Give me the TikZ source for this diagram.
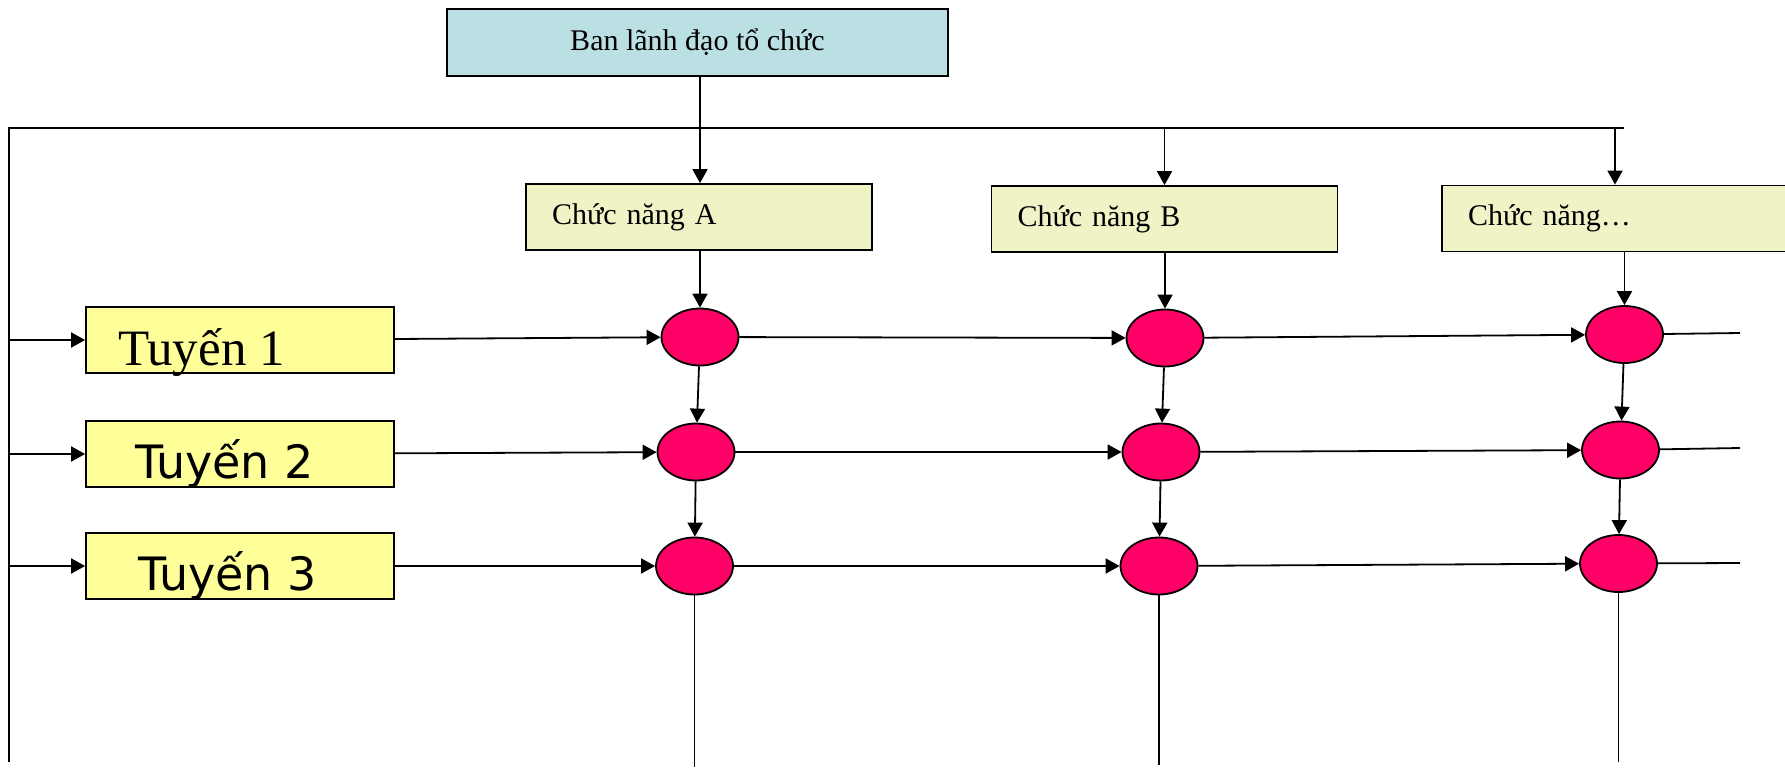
\documentclass[tikz,border=0pt]{standalone}
\usepackage{fontspec}
\setmainfont{Liberation Serif}
\newfontfamily\sansvn{DejaVu Sans}
\usetikzlibrary{arrows.meta,shapes.geometric,positioning}
\definecolor{leadblue}{HTML}{BBE0E3}
\definecolor{funcgreen}{HTML}{EFF3C6}
\definecolor{routeyellow}{HTML}{FFFF99}
\definecolor{pointpink}{HTML}{FF0066}
\newcommand\boxfont{\fontsize{15}{18}\selectfont}
\newcommand\tuyenserif{\fontsize{25.5}{29}\selectfont}
\newcommand\tuyensans{\sansvn\fontsize{23}{27}\selectfont}

\begin{document}
\begin{tikzpicture}[x=0.5pt, y=-0.5pt, line width=0.9pt, >={Triangle[length=7pt,width=7.5pt]}]
	\tikzstyle{lead} = [draw, fill=leadblue, minimum width=250.5pt, minimum height=33.5pt, font=\boxfont]
	\tikzstyle{func} = [draw, fill=funcgreen, minimum height=33pt, text width=147pt, inner xsep=13pt, align=left, font=\boxfont]
	\tikzstyle{route} = [draw, fill=routeyellow, minimum width=154pt, minimum height=33pt]
	\tikzstyle{point} = [ellipse, draw, fill=pointpink, minimum width=38.5pt, minimum height=28.5pt, inner sep=0pt]
	\tikzstyle{txt} = [anchor=base west, inner sep=0pt]
	\useasboundingbox (0,0) rectangle (1785,767);
	\clip (0,0) rectangle (1785,767);
	% leadership and functions
	\node[lead] (lead) at (697.5,42.5) {Ban lãnh đạo tổ chức};
	\node[func] (fA) at (699,217) {Chức năng A};
	\node[func] (fB) at (1164.5,219) {Chức năng B};
	\node[func] (fC) at (1615,218.5) {Chức năng…};
	% lines
	\node[route] (t1) at (240,340) {};
	\node[route] (t2) at (240,454) {};
	\node[route] (t3) at (240,566) {};
	\node[txt, font=\tuyenserif] at ([xshift=16pt,yshift=4pt]t1.south west) {Tuyến 1};
	\node[txt, font=\tuyensans] at ([xshift=24.5pt,yshift=4.5pt]t2.south west) {Tuyến 2};
	\node[txt, font=\tuyensans] at ([xshift=26pt,yshift=4.5pt]t3.south west) {Tuyến 3};
	% crossing points
	\node[point] (a1) at (700,337) {};
	\node[point] (a2) at (696,452) {};
	\node[point] (a3) at (694.5,566) {};
	\node[point] (b1) at (1165,338) {};
	\node[point] (b2) at (1161,452) {};
	\node[point] (b3) at (1159,566) {};
	\node[point] (c1) at (1624.5,334.5) {};
	\node[point] (c2) at (1620.5,450) {};
	\node[point] (c3) at (1618.5,563.5) {};
	% bus
	\coordinate (busL) at (9,128);
	\coordinate (busR) at (1624,128);
	\coordinate (busEnd) at (9,762);
	\draw (busEnd) -- (busL) -- (busR);
	\draw[->] (lead.south -| a1) -- (fA.north -| a1);
	\draw[->] (fB.north |- busL) -- (fB.north);
	\draw[->] (fC.north |- busL) -- (fC.north);
	\draw[->] (fA.south -| a1) -- (a1);
	\draw[->] (fB.south -| b1) -- (b1);
	\draw[->] (fC.south -| c1) -- (c1);
	\draw[->] (t1.west -| busL) -- (t1.west);
	\draw[->] (t2.west -| busL) -- (t2.west);
	\draw[->] (t3.west -| busL) -- (t3.west);
	% rows
	\draw[->] (t1) -- (a1);
	\draw[->] (a1) -- (b1);
	\draw[->] (b1) -- (c1);
	\draw[->] (t2) -- (a2);
	\draw[->] (a2) -- (b2);
	\draw[->] (b2) -- (c2);
	\draw[->] (t3) -- (a3);
	\draw[->] (a3) -- (b3);
	\draw[->] (b3) -- (c3);
	\coordinate (e1) at (1740,333);
	\coordinate (e2) at (1740,448);
	\coordinate (e3) at (1740,563);
	\draw (c1) -- (e1);
	\draw (c2) -- (e2);
	\draw (c3) -- (e3);
	% columns
	\draw[->] (a1) -- (a2);
	\draw[->] (a2) -- (a3);
	\draw[->] (b1) -- (b2);
	\draw[->] (b2) -- (b3);
	\draw[->] (c1) -- (c2);
	\draw[->] (c2) -- (c3);
	\draw (a3) -- (a3 |- 0,767);
	\draw (b3) -- (b3 |- 0,765);
	\draw (c3) -- (c3 |- 0,762);
\end{tikzpicture}
\end{document}
